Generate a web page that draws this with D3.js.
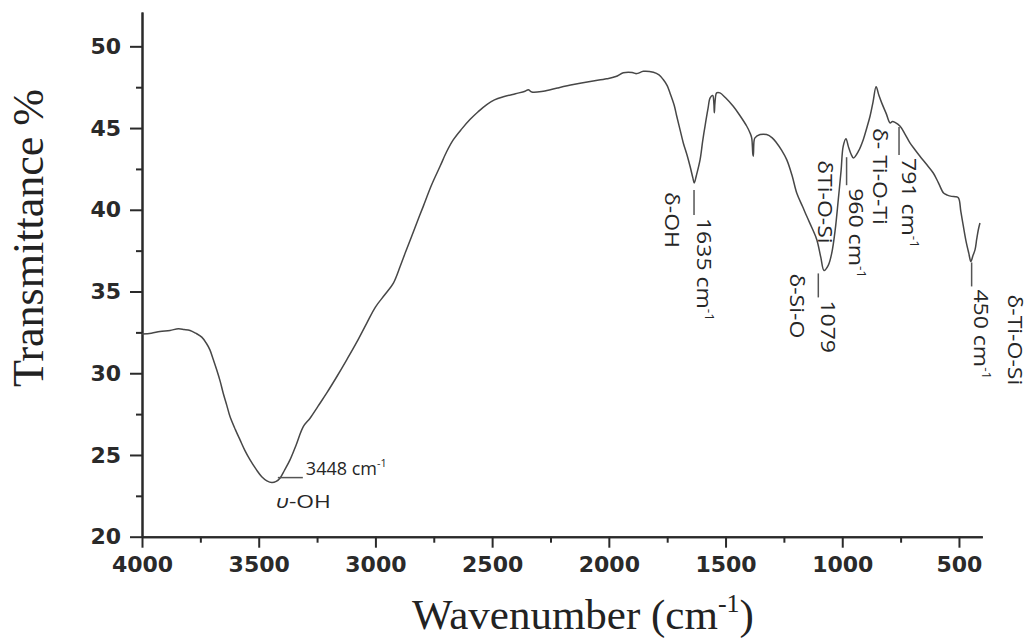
<!DOCTYPE html>
<html>
<head>
<meta charset="utf-8">
<script src="https://cdn.jsdelivr.net/npm/d3@7"></script>
<style>
  body { margin: 0; background: #fff; }
  svg { display: block; }
</style>
</head>
<body>
<svg width="1028" height="639"></svg>
<script>
// FTIR spectrum
const wavenumber = [
  4000, 3960, 3923, 3880, 3844, 3820, 3794, 3770, 3744, 3725, 3709, 3695, 3680, 3665, 3652, 3637,
  3623, 3600, 3580, 3560, 3537, 3510, 3487, 3465, 3444, 3425, 3409, 3390, 3366, 3340, 3309, 3280,
  3245, 3209, 3165, 3123, 3080, 3037, 3000, 2960, 2923, 2895, 2870, 2845, 2820, 2795, 2760, 2723,
  2695, 2666, 2630, 2595, 2560, 2523, 2490, 2452, 2400, 2359, 2345, 2330, 2281, 2220, 2152, 2080,
  2009, 1970, 1938, 1900, 1881, 1852, 1809, 1785, 1767, 1750, 1738, 1720, 1709, 1695, 1681, 1665,
  1652, 1640, 1634, 1625, 1609, 1598, 1588, 1575, 1566, 1555, 1550, 1548, 1545, 1538, 1524, 1500,
  1467, 1440, 1409, 1395, 1388, 1383, 1381, 1378, 1374, 1352, 1324, 1300, 1281, 1260, 1238, 1215,
  1195, 1170, 1152, 1130, 1109, 1092, 1078, 1060, 1045, 1030, 1017, 1005, 996, 984, 974, 962,
  952, 930, 910, 895, 881, 868, 855, 843, 831, 812, 795, 785, 774, 752, 730, 710,
  690, 667, 640, 610, 588, 566, 550, 531, 515, 502, 492, 481, 470, 458, 449, 440,
  431, 424, 417, 410
]
const transmittance = [
  32.40, 32.45, 32.55, 32.62, 32.72, 32.68, 32.62, 32.45, 32.21, 31.85, 31.43, 30.85, 30.21, 29.50, 28.78, 28.05,
  27.35, 26.55, 25.92, 25.30, 24.70, 24.10, 23.67, 23.42, 23.31, 23.38, 23.58, 24.05, 24.70, 25.60, 26.74, 27.25,
  28.00, 28.78, 29.80, 30.82, 31.90, 33.07, 34.05, 34.80, 35.52, 36.50, 37.45, 38.37, 39.30, 40.21, 41.50, 42.66,
  43.55, 44.29, 44.95, 45.52, 46.00, 46.44, 46.72, 46.91, 47.10, 47.25, 47.35, 47.20, 47.25, 47.45, 47.66, 47.85,
  48.01, 48.15, 48.38, 48.40, 48.33, 48.47, 48.41, 48.25, 47.97, 47.60, 47.15, 46.40, 45.72, 44.90, 44.09, 43.35,
  42.66, 41.95, 41.64, 42.10, 43.07, 44.20, 45.11, 46.20, 46.85, 46.99, 46.50, 45.93, 46.60, 47.15, 47.15, 46.85,
  46.33, 45.80, 45.11, 44.70, 44.40, 43.40, 43.27, 44.20, 44.40, 44.60, 44.60, 44.40, 44.09, 43.65, 43.07, 42.10,
  41.03, 40.20, 39.60, 38.90, 38.17, 37.10, 36.29, 36.60, 37.35, 38.80, 40.62, 42.40, 43.88, 44.35, 43.88, 43.40,
  43.17, 43.60, 44.29, 45.00, 45.72, 46.60, 47.52, 47.00, 46.54, 45.90, 45.31, 45.40, 45.35, 45.11, 44.60, 44.09,
  43.70, 43.27, 42.80, 42.25, 41.65, 41.03, 40.90, 40.82, 40.80, 40.72, 39.90, 38.98, 38.10, 37.35, 36.84, 37.20,
  37.56, 38.20, 38.78, 39.19
]

const xTicks = [4000, 3500, 3000, 2500, 2000, 1500, 1000, 500]
const xMinorTicks = [3750, 3250, 2750, 2250, 1750, 1250, 750]
const yTicks = [20, 25, 30, 35, 40, 45, 50]
const yMinorTicks = [22.5, 27.5, 32.5, 37.5, 42.5, 47.5]

// band assignments: peak wavenumber, number label, group label
const peakWn = [3448, 1635, 1079, 960, 791, 450]
const peakNum = ['3448', '1635', '1079', '960', '791', '450']
const peakUnit = [true, true, false, true, true, true]
const bandLabels = ['υ-OH', 'δ-OH', 'δ-Si-O', 'δTi-O-Si', 'δ- Ti-O-Ti', 'δ-Ti-O-Si']

const svg = d3.select('svg')
const plotLeft = 142, plotRight = 982.3, plotTop = 12, plotBottom = 536.7

const x = d3.scaleLinear().domain([4000, 400]).range([plotLeft, plotRight])
const y = d3.scaleLinear().domain([20, 52.1]).range([plotBottom, plotTop])

const axisColor = '#2a2a2a'
const tickFont = '"DejaVu Sans", sans-serif'
const noteFont = '"Open Sans", sans-serif'
const noteColor = '#262626'
const noteSize = 20
const stretch = 1.15  // the rotated labels in the source are drawn wide

// minor ticks first, then major axes on top
svg.append('g')
    .attr('transform', 'translate(0,' + plotBottom + ')')
    .call(d3.axisBottom(x).tickValues(xMinorTicks).tickFormat('').tickSize(6).tickSizeOuter(0))
svg.append('g')
    .attr('transform', 'translate(' + plotLeft + ',0)')
    .call(d3.axisLeft(y).tickValues(yMinorTicks).tickFormat('').tickSize(6).tickSizeOuter(0))

svg.append('g')
    .attr('transform', 'translate(0,' + plotBottom + ')')
    .call(d3.axisBottom(x).tickValues(xTicks).tickFormat(d3.format('d')).tickSize(11).tickPadding(9).tickSizeOuter(0))
svg.append('g')
    .attr('transform', 'translate(' + plotLeft + ',0)')
    .call(d3.axisLeft(y).tickValues(yTicks).tickFormat(d3.format('d')).tickSize(12).tickPadding(9).tickSizeOuter(0))

svg.selectAll('.domain, .tick line')
    .attr('stroke', axisColor)
    .attr('stroke-width', 2)
svg.selectAll('.tick text')
    .attr('fill', axisColor)
    .attr('font-family', tickFont)
    .attr('font-weight', 'bold')
    .attr('font-size', 22)

// spectrum
const points = wavenumber.map((w, i) => [w, transmittance[i]])
svg.append('path')
    .datum(points)
    .attr('fill', 'none')
    .attr('stroke', '#474747')
    .attr('stroke-width', 1.5)
    .attr('stroke-linejoin', 'round')
    .attr('d', d3.line()
        .x(d => x(d[0]))
        .y(d => y(d[1]))
        .curve(d3.curveCatmullRom.alpha(0.5)))

// axis titles
svg.append('text')
    .attr('transform', 'translate(43,238) rotate(-90)')
    .attr('text-anchor', 'middle')
    .attr('font-family', '"Liberation Serif", serif')
    .attr('font-size', 44)
    .attr('fill', '#222')
    .text('Transmittance %')

const xTitle = svg.append('text')
    .attr('x', 583)
    .attr('y', 629)
    .attr('text-anchor', 'middle')
    .attr('font-family', '"Liberation Serif", serif')
    .attr('font-size', 43)
    .attr('fill', '#222')
xTitle.append('tspan').text('Wavenumber (cm')
xTitle.append('tspan').attr('dy', -17).attr('font-size', 26).text('-1')
xTitle.append('tspan').attr('dy', 17).text(')')

// annotation helpers
function numberLabel(g, i, size) {
    const t = g.append('text')
        .attr('font-family', noteFont)
        .attr('font-size', size)
        .attr('fill', noteColor)
    t.append('tspan').text(peakNum[i] + (peakUnit[i] ? ' cm' : ''))
    if (peakUnit[i]) {
        t.append('tspan').attr('dy', -size * 0.4).attr('font-size', size * 0.6).text('-1')
    }
    return t
}

function valueAt(w) {
    const i = d3.minIndex(wavenumber, v => Math.abs(v - w))
    return transmittance[i]
}

// 3448 cm-1: horizontal leader
const a0 = svg.append('g')
const x0 = x(peakWn[0]), y0 = y(valueAt(peakWn[0]))
a0.append('line')
    .attr('x1', x0 + 7).attr('x2', x0 + 32)
    .attr('y1', y0 - 5).attr('y2', y0 - 5)
    .attr('stroke', '#555').attr('stroke-width', 1.5)
numberLabel(a0, 0, 18).attr('x', x0 + 35).attr('y', y0 - 8)
a0.append('text')
    .attr('transform', 'translate(' + (x0 + 5) + ',' + (y0 + 25) + ') scale(1.2,1)')
    .attr('font-family', noteFont)
    .attr('font-size', 19)
    .attr('fill', noteColor)
    .call(t => {
        t.append('tspan').attr('font-style', 'italic').text('υ')
        t.append('tspan').text('-OH')
    })

// vertical leaders with rotated labels
// [peak index, leader dx, leader gap below trace, leader length, band label dx, band label dy]
const vLayout = [
    [1, 0, 7, 25, -29, 2],
    [2, -5.5, 3, 24, -28.3, 0],
    [3, -5, 3, 28, -28.5, 3],
    [4, 8, 4, 28, -26, 1],
    [5, 1, 1, 24, 36.3, 32]
]

vLayout.forEach(l => {
    const i = l[0]
    const g = svg.append('g')
    const lx = x(peakWn[i]) + l[1]
    const ly = y(valueAt(peakWn[i])) + l[2]
    g.append('line')
        .attr('x1', lx).attr('x2', lx)
        .attr('y1', ly).attr('y2', ly + l[3])
        .attr('stroke', '#555').attr('stroke-width', 1.5)
    numberLabel(g, i, noteSize)
        .attr('transform', 'translate(' + (lx + 2.5) + ',' + (ly + l[3] + 3) + ') rotate(90) scale(' + stretch + ',1)')
    g.append('text')
        .attr('transform', 'translate(' + (lx + l[4]) + ',' + (ly + l[5]) + ') rotate(90) scale(' + stretch + ',1)')
        .attr('font-family', noteFont)
        .attr('font-size', noteSize)
        .attr('fill', noteColor)
        .text(bandLabels[i])
})
</script>
</body>
</html>
